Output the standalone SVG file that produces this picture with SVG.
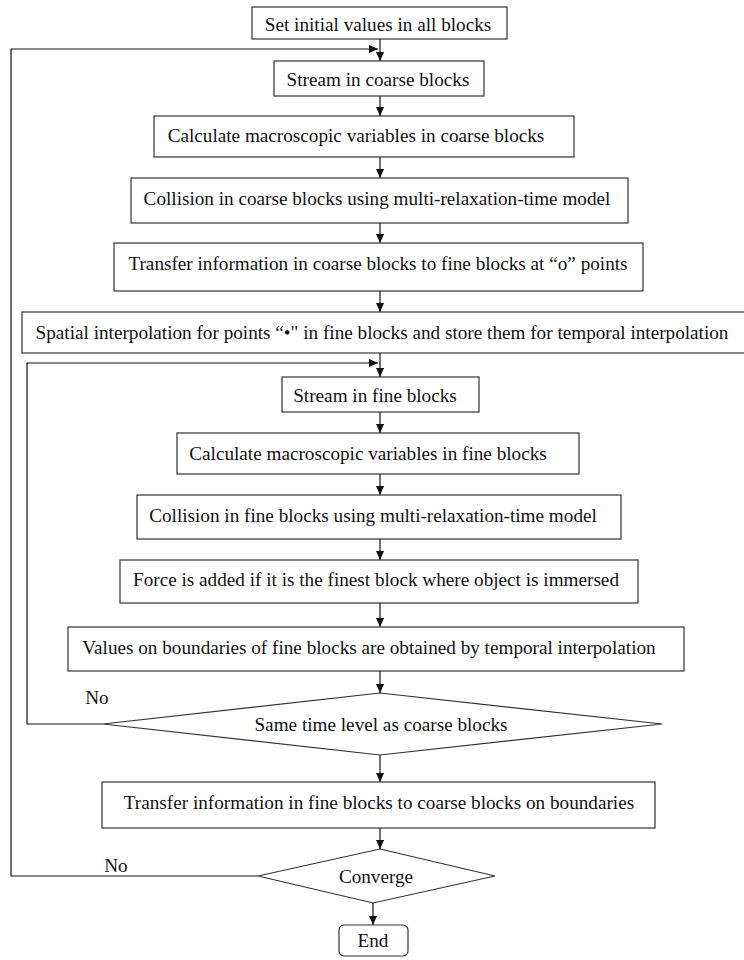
<svg xmlns="http://www.w3.org/2000/svg" width="744" height="960" viewBox="0 0 744 960">
<style>
.box{fill:#fff;stroke:#333;stroke-width:1.2}
.t{font-family:"Liberation Serif","Times New Roman",serif;font-size:19.2px;fill:#111;text-anchor:middle}
.c{fill:none;stroke:#111;stroke-width:1.2}
</style>
<defs>
<marker id="ah" viewBox="0 0 10 10" refX="10" refY="5" markerWidth="9" markerHeight="9" markerUnits="userSpaceOnUse" orient="auto">
<path d="M0,0.5 L10,5 L0,9.5 Z" fill="#111"/>
</marker>
</defs>
<rect width="744" height="960" fill="#fff"/>
<g id="connectors">
<line class="c" x1="380" y1="39" x2="380" y2="61" marker-end="url(#ah)"/>
<line class="c" x1="380" y1="96" x2="380" y2="116" marker-end="url(#ah)"/>
<line class="c" x1="380" y1="157" x2="380" y2="178" marker-end="url(#ah)"/>
<line class="c" x1="380" y1="223" x2="380" y2="243" marker-end="url(#ah)"/>
<line class="c" x1="380" y1="291" x2="380" y2="312" marker-end="url(#ah)"/>
<line class="c" x1="380" y1="353" x2="380" y2="377" marker-end="url(#ah)"/>
<line class="c" x1="380" y1="412" x2="380" y2="433" marker-end="url(#ah)"/>
<line class="c" x1="380" y1="474" x2="380" y2="495" marker-end="url(#ah)"/>
<line class="c" x1="380" y1="539" x2="380" y2="560" marker-end="url(#ah)"/>
<line class="c" x1="380" y1="603" x2="380" y2="627" marker-end="url(#ah)"/>
<line class="c" x1="380" y1="671" x2="380" y2="693" marker-end="url(#ah)"/>
<line class="c" x1="380" y1="755" x2="380" y2="782" marker-end="url(#ah)"/>
<line class="c" x1="380" y1="828" x2="380" y2="849" marker-end="url(#ah)"/>
<line class="c" x1="373" y1="903" x2="373" y2="925" marker-end="url(#ah)"/>
<polyline class="c" points="103,724 27,724 27,363 378,363" marker-end="url(#ah)"/>
<polyline class="c" points="258,876 11,876 11,49 378,49" marker-end="url(#ah)"/>
</g>
<g id="n1"><rect class="box" x="252" y="7" width="255" height="32"/><text class="t" x="378" y="30.5">Set initial values in all blocks</text></g>
<g id="n2"><rect class="box" x="274" y="61" width="210" height="35"/><text class="t" x="378" y="85.5">Stream in coarse blocks</text></g>
<g id="n3"><rect class="box" x="154" y="116" width="420" height="41"/><text class="t" x="356" y="141.5">Calculate macroscopic variables in coarse blocks</text></g>
<g id="n4"><rect class="box" x="131" y="178" width="497" height="45"/><text class="t" x="377" y="204.5">Collision in coarse blocks using multi-relaxation-time model</text></g>
<g id="n5"><rect class="box" x="114" y="243" width="529" height="48"/><text class="t" x="378" y="269.5">Transfer information in coarse blocks to fine blocks at “o” points</text></g>
<g id="n6"><rect class="box" x="22" y="312" width="726" height="41"/><text class="t" x="382" y="338.5">Spatial interpolation for points “•" in fine blocks and store them for temporal interpolation</text></g>
<g id="n7"><rect class="box" x="282" y="377" width="197" height="35"/><text class="t" x="375" y="401.5">Stream in fine blocks</text></g>
<g id="n8"><rect class="box" x="177" y="433" width="402" height="41"/><text class="t" x="368" y="459.5">Calculate macroscopic variables in fine blocks</text></g>
<g id="n9"><rect class="box" x="137" y="495" width="484" height="44"/><text class="t" x="373" y="521.5">Collision in fine blocks using multi-relaxation-time model</text></g>
<g id="n10"><rect class="box" x="120" y="560" width="518" height="43"/><text class="t" x="376" y="585.5">Force is added if it is the finest block where object is immersed</text></g>
<g id="n11"><rect class="box" x="68" y="627" width="616" height="44"/><text class="t" x="369" y="653.5">Values on boundaries of fine blocks are obtained by temporal interpolation</text></g>
<g id="d1"><polygon class="box" points="380,693 662,724 380,755 103,724"/><text class="t" x="381" y="730.5">Same time level as coarse blocks</text></g>
<text class="t" x="97" y="703.5">No</text>
<g id="n12"><rect class="box" x="102" y="782" width="553" height="46"/><text class="t" x="379" y="808.5">Transfer information in fine blocks to coarse blocks on boundaries</text></g>
<g id="d2"><polygon class="box" points="380,849 495,876 373,903 258,876"/><text class="t" x="376" y="882.5">Converge</text></g>
<text class="t" x="116" y="871.5">No</text>
<g id="end"><rect class="box" x="339" y="925" width="69" height="31" rx="5"/><text class="t" x="373" y="947">End</text></g>
</svg>
